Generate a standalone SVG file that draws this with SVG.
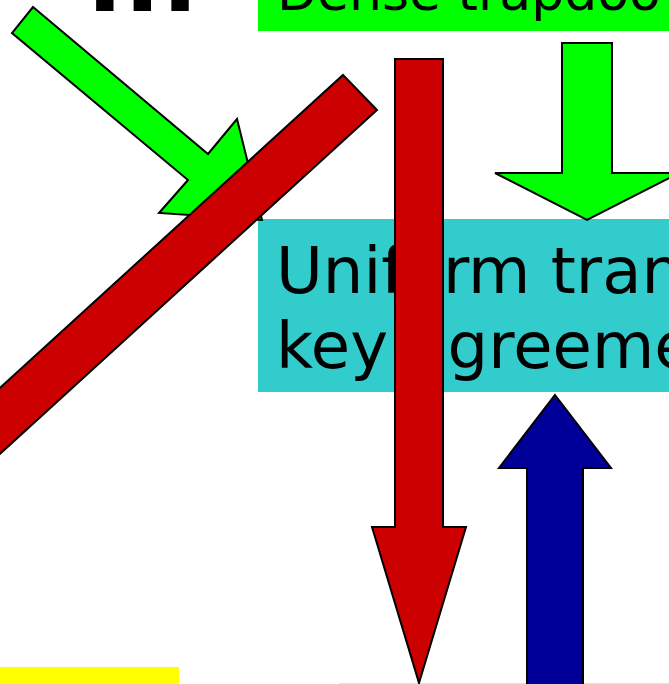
<svg xmlns="http://www.w3.org/2000/svg" width="669" height="684" viewBox="0 0 669 684">
<style>
.lbl{font-family:"DejaVu Sans","Verdana",sans-serif;font-size:64px;fill:#000}
.arr{stroke:#000;stroke-width:2;stroke-linejoin:miter}
.red{fill:#CC0000}.grn{fill:#00FF00}.blu{fill:#000099}
</style>
<rect width="669" height="684" fill="#fff"/>
<g id="title"><text x="86" y="11" style="font-family:'DejaVu Sans',sans-serif;font-weight:bold;font-size:99px">...</text></g>
<g id="node-dense"><rect x="258" y="-10" width="420" height="41" fill="#00FF00"/><text class="lbl" x="277" y="10" style="font-size:52px">Dense trapdoo</text></g>
<g id="node-uniform"><rect x="258" y="219" width="420" height="173" fill="#33CCCC"/><text class="lbl" x="276" y="293">Uniform tran</text><text class="lbl" x="276" y="368">key agreeme</text></g>
<g id="node-yellow-left"><rect x="0" y="667" width="179" height="30" fill="#FFFF00"/></g>
<g id="node-yellow-right"><rect x="339" y="683" width="340" height="10" fill="#FFFF00"/></g>
<g id="connectors">
<polygon class="arr grn" points="33,7 208,154 237,119 262,220 159,213 188,180 12,33"/>
<polygon class="arr grn" points="562,43 612,43 612,173 679,173 587,220 495,173 562,173"/>
<polygon class="arr red" points="343,75 377,110 -66,514 -100,479"/>
<polygon class="arr blu" points="555,395 611,468 583,468 583,700 527,700 527,468 499,468"/>
<polygon class="arr red" points="395,59 443,59 443,527 466,527 419,683 372,527 395,527"/>
</g>
</svg>
